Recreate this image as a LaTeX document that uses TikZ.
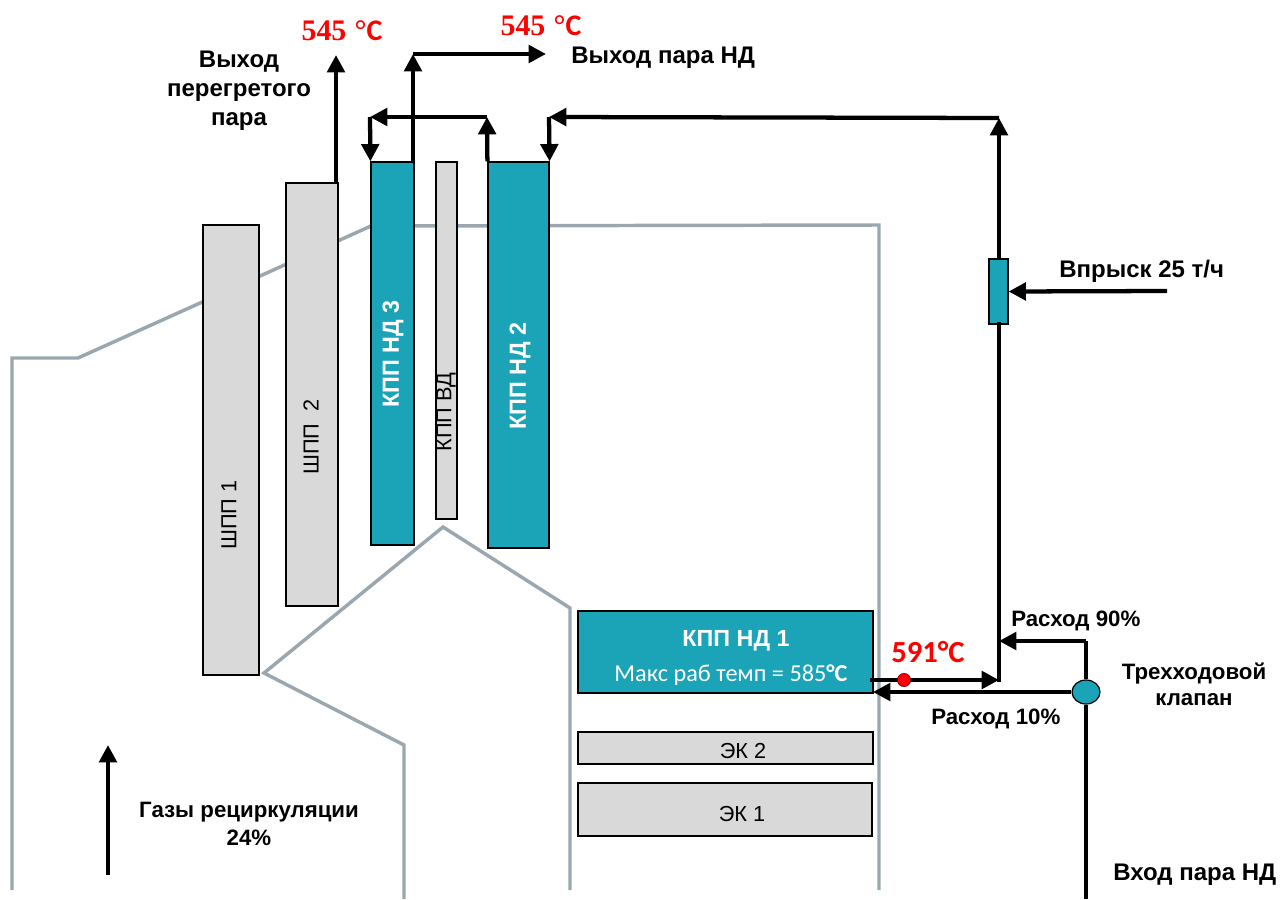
\documentclass[tikz,border=0pt]{standalone}
\usepackage{fontspec}
\setmainfont{Liberation Sans}
\newfontfamily\serifred{Liberation Serif}
\newfontfamily\calib{Carlito}
\usetikzlibrary{arrows.meta,shapes.geometric}
\definecolor{teal1}{HTML}{1BA4B8}
\definecolor{boxgray}{HTML}{D9D9D9}
\definecolor{wallgray}{HTML}{9AA7AE}
\tikzset{
  wall/.style={draw=wallgray,line width=2.6pt,line join=miter},
  graybox/.style={draw=black,line width=0.9pt,fill=boxgray,inner sep=0pt},
  tealbox/.style={draw=black,line width=0.9pt,fill=teal1,inner sep=0pt},
  graytext/.style={inner sep=0pt,font=\fontsize{16.3}{18}\selectfont},
  tealtext/.style={inner sep=0pt,text=white,font=\bfseries\fontsize{17.5}{20}\selectfont},
  pipe/.style={draw=black,line width=3.2pt},
  flow/.style={pipe,-{Triangle[length=13pt,width=13pt]}},
  lab/.style={font=\bfseries\fontsize{18}{21.7}\selectfont,align=center,text=black,inner sep=0pt},
  labs/.style={font=\bfseries\fontsize{16.7}{21}\selectfont,align=center,text=black,inner sep=0pt},
  templab/.style={font=\bfseries\fontsize{22.4}{25}\selectfont,text=red,inner sep=0pt},
}
\newcommand{\bx}[6]{\node[#6,minimum width={(#4-#2)*0.75pt},minimum height={(#5-#3)*0.75pt}] (#1) at ({(#2+#4)/2},{(#3+#5)/2}) {};}
\begin{document}
\begin{tikzpicture}[x=0.75pt,y=-0.75pt]
\useasboundingbox (0,0) rectangle (1280,899);
% walls
\draw[wall] (12,890) -- (12,358) -- (78,358) -- (371,226) -- (879,225) -- (879,890);
\draw[wall] (404,899) -- (404,745) -- (264,673) -- (443,527) -- (570,608) -- (570,890);
% boxes
\bx{shpa}{203}{225}{259}{675}{graybox}
\bx{shpb}{286}{183}{338}{606}{graybox}
\bx{kpp3}{371}{162}{414}{545}{tealbox}
\bx{kppv}{436}{162}{457}{519}{graybox}
\bx{kpp2}{488}{162}{549}{548}{tealbox}
\bx{kpp1}{578}{611}{873}{693}{tealbox}
\bx{eka}{578}{732}{873}{764}{graybox}
\bx{ekb}{578}{783}{872}{836}{graybox}
\bx{inj}{989}{259}{1008}{324}{tealbox}
\node[draw=black,line width=0.9pt,fill=teal1,ellipse,inner sep=0pt,minimum width=21pt,minimum height=18pt] (valve) at (1086,692) {};
% text in boxes
\node[graytext,rotate=90] (l1) at (229,515) {ШПП 1};
\node[graytext,rotate=90] (l2) at (311,437) {ШПП\ \ 2};
\node[tealtext,rotate=90] (l3) at (393,354) {КПП НД 3};
\node[graytext,rotate=90] (l4) at (446,412) {КПП ВД};
\node[tealtext,rotate=90] (l5) at (520,376) {КПП НД 2};
\node[graytext] (l6) at (743,751) {ЭК 2};
\node[graytext] (l7) at (742,814) {ЭК 1};
\node[tealtext] (k1a) at (736,641) {КПП НД 1};
\node[text=white,font=\calib\fontsize{18.2}{20}\selectfont,inner sep=0pt] (k1b) at (731,675) {Макс раб темп = 585\textbf{°C}};
% bend points
\coordinate (b1) at (336,55);
\coordinate (b2) at (413,54);
\coordinate (b3) at (546,54);
\coordinate (c1) at (487,117);
\coordinate (c2) at (370,117);
\coordinate (d1) at (999,118);
\coordinate (d2) at (549,117);
\coordinate (j0) at (999,680);
\coordinate (j1) at (870,680);
\coordinate (v1) at (1086,641);
\coordinate (v2) at (999,641);
\coordinate (w0) at (1086,899);
\coordinate (i0) at (1167,291);
\coordinate (g0) at (108,875);
\coordinate (g1) at (108,745);
% connectors
\draw[flow] (336,183) -- (b1);
\draw[flow] (413,162) -- (b2);
\draw[flow] (b2) -- (b3);
\draw[flow] (kpp2.north west) -- (c1);
\draw[flow] (c1) -- (c2);
\draw[flow] (c2) -- (kpp3.north west);
\draw[flow] (999,259) -- (d1);
\draw[flow] (d1) -- (d2);
\draw[flow] (d2) -- (kpp2.north east);
\draw[pipe,line cap=rect] (j0) -- (999,324);
\draw[flow] (j1) -- (j0);
\draw[pipe] (valve.north) -- (v1);
\draw[flow] (v1) -- (v2);
\draw[flow] (valve.west) -- (873,692);
\draw[pipe] (valve.south) -- (w0);
\draw[flow] (i0) -- (inj.east);
\draw[flow] (g0) -- (g1);
\node[circle,fill=red,draw=black!60!red,line width=0.4pt,minimum size=10pt,inner sep=0pt] (dot) at (904,680) {};
% labels
\node[lab] (t1) at (239,91) {Выход\\перегретого\\пара};
\node[lab,anchor=west] (t2) at (571,58) {Выход пара НД};
\node[lab,anchor=west] (t3) at (1059,271) {Впрыск 25 т/ч};
\node[labs,anchor=west] (t4) at (1011,621) {Расход 90\%};
\node[labs,anchor=west] (t5) at (931,719) {Расход 10\%};
\node[labs,font=\bfseries\fontsize{16.7}{19.5}\selectfont] (t6) at (1194,684) {Трехходовой\\клапан};
\node[labs] (t7) at (249,824) {Газы рециркуляции\\24\%};
\node[lab,anchor=west] (t8) at (1113,875) {Вход пара НД};
\node[templab] (h1) at (342,31) {{\serifred 545} {\serifred°}{\calib C}};
\node[templab] (h2) at (541,26) {{\serifred 545} {\serifred°}{\calib C}};
\node[templab,font=\calib\bfseries\fontsize{23}{25}\selectfont] (h3) at (928,652) {591°C};
\end{tikzpicture}
\end{document}
